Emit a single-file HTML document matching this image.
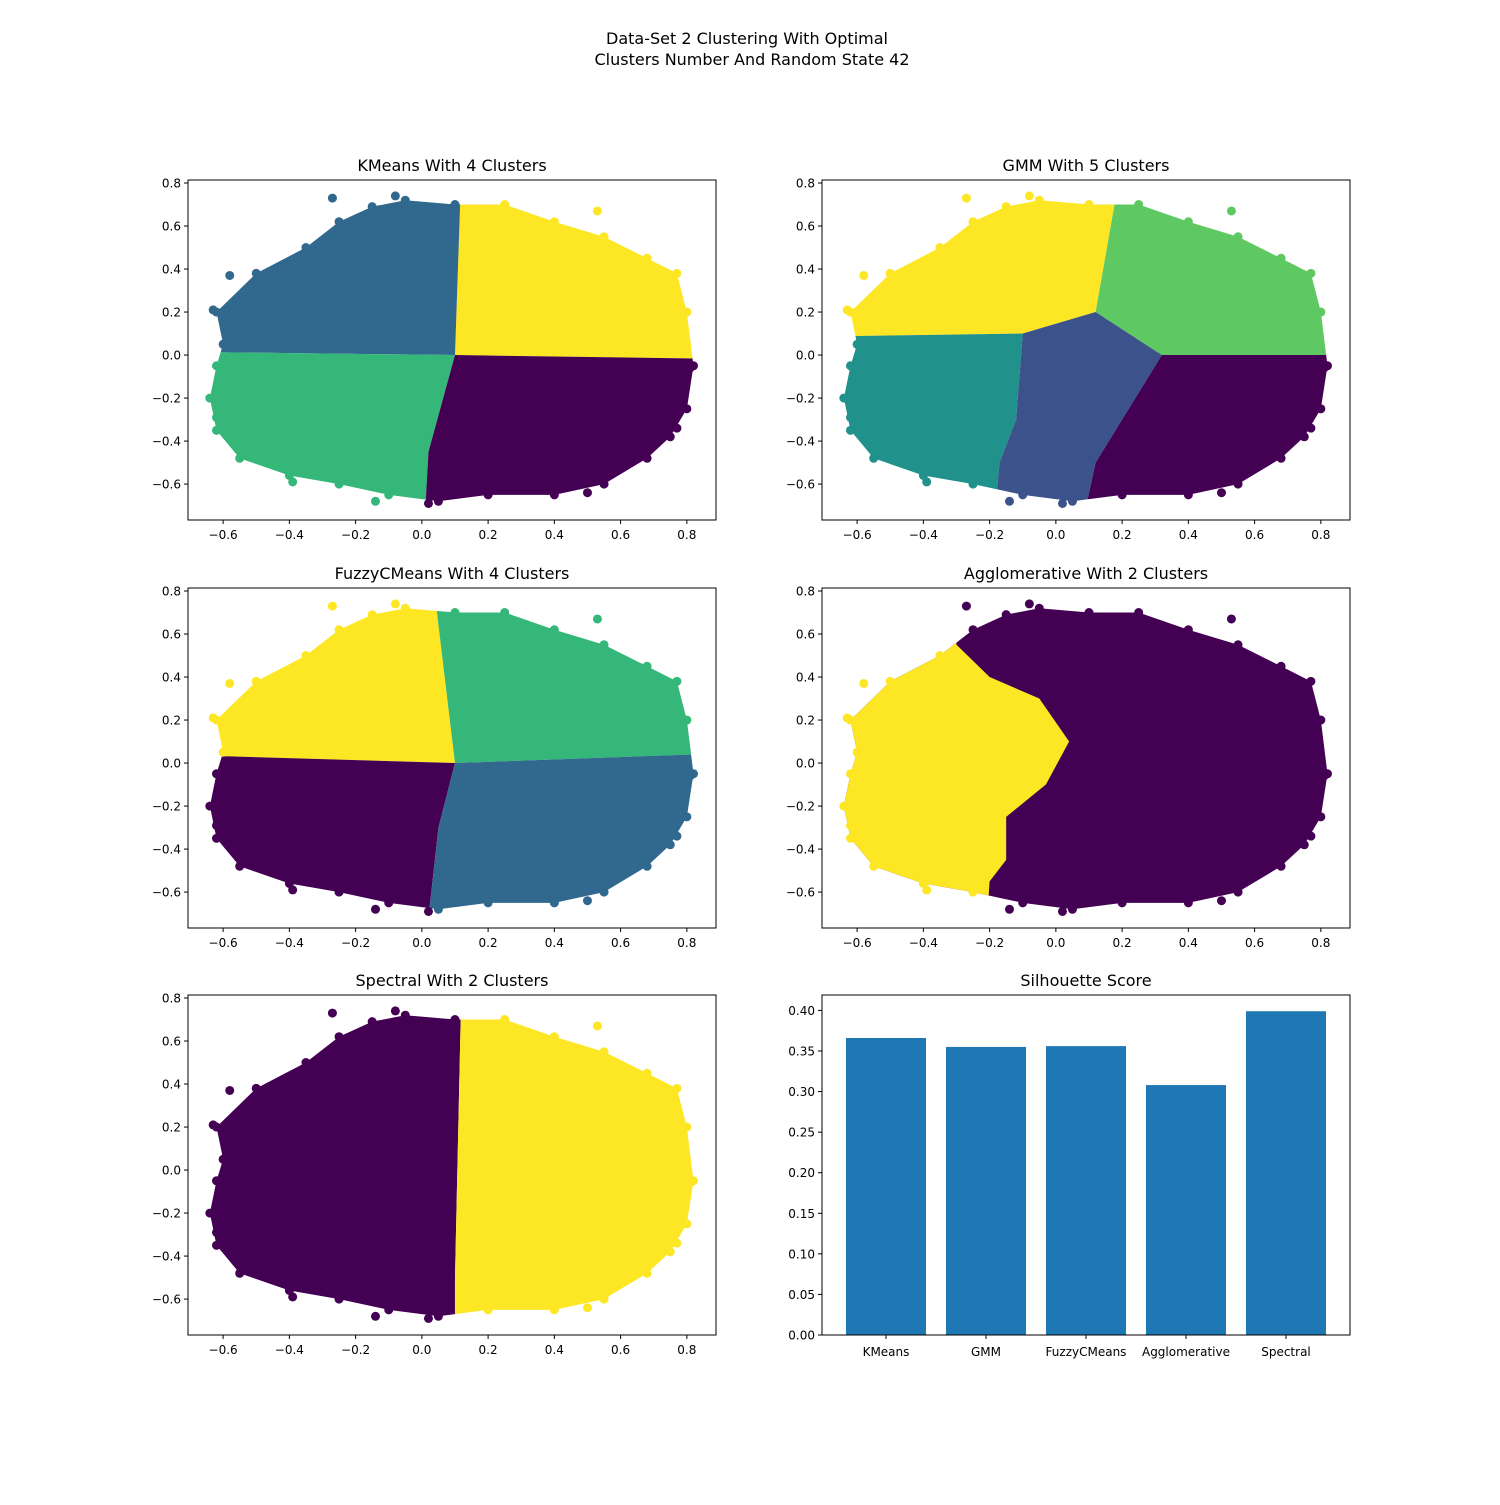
<!DOCTYPE html>
<html><head><meta charset="utf-8">
<style>
body{margin:0;background:#fff;}
svg text{font-family:"DejaVu Sans","Liberation Sans",sans-serif;fill:#000;}
</style></head>
<body>
<svg id="fig" width="1500" height="1500" viewBox="0 0 1500 1500" xmlns="http://www.w3.org/2000/svg">
<rect width="1500" height="1500" fill="#fff"/>
<text x="747" y="44" font-size="16" text-anchor="middle">Data-Set 2 Clustering With Optimal</text>
<text x="752" y="65" font-size="16" text-anchor="middle">Clusters Number And Random State 42</text>
</svg>
<script>
const NS="http://www.w3.org/2000/svg";
const fig=document.getElementById('fig');
// ---- data ----
const cloudOutline=[[-0.62,0.2],[-0.5,0.38],[-0.35,0.5],[-0.25,0.62],[-0.15,0.69],[-0.05,0.72],[0.1,0.7],[0.25,0.7],[0.4,0.62],[0.55,0.55],[0.68,0.45],[0.77,0.38],[0.8,0.2],[0.82,-0.05],[0.8,-0.25],[0.75,-0.38],[0.68,-0.48],[0.55,-0.6],[0.4,-0.65],[0.2,-0.65],[0.05,-0.68],[-0.1,-0.65],[-0.25,-0.6],[-0.4,-0.56],[-0.55,-0.48],[-0.62,-0.35],[-0.64,-0.2],[-0.62,-0.05],[-0.6,0.05]];
const outliers=[[-0.63,0.21],[-0.27,0.73],[-0.08,0.74],[0.53,0.67],[0.81,-0.06],[0.02,-0.69],[-0.14,-0.68],[-0.39,-0.59],[-0.62,-0.29],[0.5,-0.64],[0.77,-0.34],[-0.58,0.37]];
const viridis4=['#440154','#31688e','#35b779','#fde725'];
const viridis5=['#440154','#3b528b','#21918c','#5ec962','#fde725'];
const viridis2=['#440154','#fde725'];
const kmeansRegions=[
 {c:3,p:[[0.12,0.9],[1,0.9],[1,-0.02],[0.1,0.0]]},
 {c:1,p:[[-1,0.9],[0.12,0.9],[0.1,0.0],[-1,0.02]]},
 {c:2,p:[[-1,0.02],[0.1,0.0],[0.02,-0.45],[0.0,-1],[-1,-1]]},
 {c:0,p:[[0.1,0.0],[1,-0.02],[1,-1],[0.0,-1],[0.02,-0.45]]}];
const gmmRegions=[
 {c:4,p:[[-1,0.9],[0.2,0.9],[0.12,0.2],[-0.1,0.1],[-1,0.08]]},
 {c:3,p:[[0.2,0.9],[1,0.9],[1,0.0],[0.32,0.0],[0.12,0.2]]},
 {c:2,p:[[-1,0.08],[-0.1,0.1],[-0.12,-0.3],[-0.17,-0.5],[-0.2,-1],[-1,-1]]},
 {c:1,p:[[-0.1,0.1],[0.12,0.2],[0.32,0.0],[0.2,-0.3],[0.12,-0.5],[0.05,-1],[-0.2,-1],[-0.17,-0.5],[-0.12,-0.3]]},
 {c:0,p:[[0.32,0.0],[1,0.0],[1,-1],[0.05,-1],[0.12,-0.5],[0.2,-0.3]]}];
const fuzzyRegions=[
 {c:3,p:[[-1,0.9],[0.03,0.9],[0.1,0.0],[-1,0.05]]},
 {c:2,p:[[0.03,0.9],[1,0.9],[1,0.05],[0.1,0.0]]},
 {c:0,p:[[-1,0.05],[0.1,0.0],[0.05,-0.3],[0.0,-1],[-1,-1]]},
 {c:1,p:[[0.1,0.0],[1,0.05],[1,-1],[0.0,-1],[0.05,-0.3]]}];
const aggloRegions=[
 {c:0,p:[[-1,0.9],[1,0.9],[1,-1],[-1,-1]]},
 {c:1,p:[[-1,0.9],[-0.32,0.9],[-0.3,0.55],[-0.2,0.4],[-0.05,0.3],[0.04,0.1],[-0.03,-0.1],[-0.15,-0.25],[-0.15,-0.45],[-0.2,-0.55],[-0.22,-1],[-1,-1]]}];
const spectralRegions=[
 {c:0,p:[[-1,0.9],[0.12,0.9],[0.1,-0.5],[0.1,-1],[-1,-1]]},
 {c:1,p:[[0.12,0.9],[1,0.9],[1,-1],[0.1,-1],[0.1,-0.5]]}];
const barCategories=['KMeans','GMM','FuzzyCMeans','Agglomerative','Spectral'];
const barValues=[0.366,0.355,0.356,0.308,0.399];
const xTicks=[-0.6,-0.4,-0.2,0.0,0.2,0.4,0.6,0.8];
const yTicks=[-0.6,-0.4,-0.2,0.0,0.2,0.4,0.6,0.8];
const barTicks=[0,0.05,0.1,0.15,0.2,0.25,0.3,0.35,0.4];

function el(tag,attrs,parent){const e=document.createElementNS(NS,tag);for(const k in attrs)e.setAttribute(k,attrs[k]);(parent||fig).appendChild(e);return e;}
function fmt(v,d){let s=v.toFixed(d);if(s.startsWith('-'))s='\u2212'+s.slice(1);return s;}

let clipId=0;
function scatterPanel(L,T,title,regions,pal,name){
 const W=528,H=340, xmin=-0.706,xmax=0.888,ymin=-0.767,ymax=0.814;
 const sx=v=>L+(v-xmin)/(xmax-xmin)*W, sy=v=>T+(ymax-v)/(ymax-ymin)*H;
 const g=el('g',{});
 
 
 const id='clip'+(clipId++);
 const defs=el('defs',{},g);
 const cp=el('clipPath',{id:id},defs);
 el('polygon',{points:cloudOutline.map(p=>sx(p[0])+','+sy(p[1])).join(' ')},cp);
 const rg=el('g',{'clip-path':'url(#'+id+')'},g);
 regions.forEach((r,i)=>{
  const pg=el('polygon',{points:r.p.map(p=>sx(p[0])+','+sy(p[1])).join(' '),fill:pal[r.c]},rg);
  
  
 });
 function regionOf(x,y){let res=regions[0].c;regions.forEach(r=>{if(inside([x,y],r.p))res=r.c;});return res;}
 cloudOutline.concat(outliers).forEach(p=>{
  const c=el('circle',{cx:sx(p[0]),cy:sy(p[1]),r:4.5,fill:pal[regionOf(p[0],p[1])]},g);
  
  
 });
 axesFrame(g,L,T,W,H,title,name);
 xTicks.forEach(v=>{const x=sx(v);el('line',{x1:x,x2:x,y1:T+H,y2:T+H+4,stroke:'#000'},g);
  const t=el('text',{x:x,y:T+H+19,'font-size':12,'text-anchor':'middle'},g);t.textContent=fmt(v,1);});
 yTicks.forEach(v=>{const y=sy(v);el('line',{x1:L-4,x2:L,y1:y,y2:y,stroke:'#000'},g);
  const t=el('text',{x:L-7,y:y+4.5,'font-size':12,'text-anchor':'end'},g);t.textContent=fmt(v,1);});
}
function inside(pt,poly){let x=pt[0],y=pt[1],ins=false;for(let i=0,j=poly.length-1;i<poly.length;j=i++){const xi=poly[i][0],yi=poly[i][1],xj=poly[j][0],yj=poly[j][1];if(((yi>y)!=(yj>y))&&(x<(xj-xi)*(y-yi)/(yj-yi)+xi))ins=!ins;}return ins;}
function axesFrame(g,L,T,W,H,title,name){
 const r=el('rect',{x:L,y:T,width:W,height:H,fill:'none',stroke:'#000','stroke-width':1},g);
 
 
 const t=el('text',{x:L+W/2,y:T-9,'font-size':16,'text-anchor':'middle'},g);
 t.textContent=title;
 
 
}
scatterPanel(188,180,'KMeans With 4 Clusters',kmeansRegions,viridis4,'kmeans');
scatterPanel(822,180,'GMM With 5 Clusters',gmmRegions,viridis5,'gmm');
scatterPanel(188,588,'FuzzyCMeans With 4 Clusters',fuzzyRegions,viridis4,'fuzzy');
scatterPanel(822,588,'Agglomerative With 2 Clusters',aggloRegions,viridis2,'agglomerative');
scatterPanel(188,995,'Spectral With 2 Clusters',spectralRegions,viridis2,'spectral');

(function(){
 const L=822,T=995,W=528,H=340,xmin=-0.64,xmax=4.64,ymin=0,ymax=0.419;
 const sx=v=>L+(v-xmin)/(xmax-xmin)*W, sy=v=>T+(ymax-v)/(ymax-ymin)*H;
 const g=el('g',{});
 
 
 barValues.forEach((v,i)=>{
  const b=el('rect',{x:sx(i-0.4),y:sy(v),width:sx(i+0.4)-sx(i-0.4),height:sy(0)-sy(v),fill:'#1f77b4'},g);
  
  
  el('line',{x1:sx(i),x2:sx(i),y1:T+H,y2:T+H+4,stroke:'#000'},g);
  const t=el('text',{x:sx(i),y:T+H+21,'font-size':12,'text-anchor':'middle'},g);t.textContent=barCategories[i];
 });
 barTicks.forEach(v=>{const y=sy(v);el('line',{x1:L-4,x2:L,y1:y,y2:y,stroke:'#000'},g);
  const t=el('text',{x:L-7,y:y+4.5,'font-size':12,'text-anchor':'end'},g);t.textContent=v.toFixed(2);});
 axesFrame(g,L,T,W,H,'Silhouette Score','silhouette');
})();
</script>
</body></html>
